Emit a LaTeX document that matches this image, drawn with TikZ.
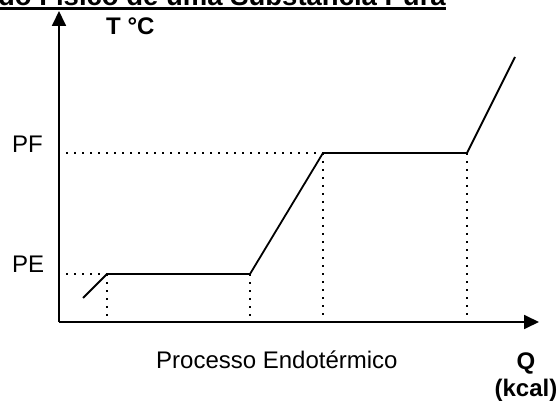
\documentclass[tikz,border=0pt]{standalone}
\usepackage{fontspec}
\setmainfont{Liberation Sans}
\usetikzlibrary{arrows.meta}

\begin{document}
\begin{tikzpicture} [x=1pt, y=-1pt,
  eixo/.style={black, line width=1.8pt, ->, >={Triangle[length=15pt,width=14pt]}},
  curva/.style={black, line width=1.8pt, line join=miter},
  pontos/.style={black, line width=1.8pt, dash pattern=on 1.8pt off 6.2pt},
  rotulo/.style={font=\fontsize{24}{27.6}\selectfont, inner sep=0pt},
  negrito/.style={font=\fontsize{24}{27.6}\selectfont\bfseries, inner sep=0pt}]
\useasboundingbox (0,0) rectangle (560,401);
\clip (0,0) rectangle (560,401);
% titulo (cortado em cima)
\node[anchor=base east, inner sep=0pt, font=\fontsize{27.5}{30}\selectfont\bfseries] (titulo) at (446,5.5) {Mudança de Estado Físico de uma Substância Pura};
\draw[line width=2.6pt] ([yshift=-3pt]titulo.base west) -- ([yshift=-3pt]titulo.base east);
% eixos
\coordinate (O) at (59,322);
\coordinate (topo) at (59,11);
\coordinate (fim) at (539,322);
\draw[eixo] (O)--(topo);
\draw[eixo] (O)--(fim);
% pontos da curva
\coordinate (a) at (83,298);
\coordinate (b) at (107,274);
\coordinate (c) at (250,274);
\coordinate (d) at (323,153);
\coordinate (e) at (467,153);
\coordinate (f) at (515,57);
\draw[pontos] (66,274)--(b);
\draw[pontos] (66,153)--(d);
\foreach \p in {b,c,d,e} {
 \draw[pontos] (\p) -- (\p |- O);
}
\draw[curva] (a)--(b)--(c)--(d)--(e)--(f);
% rotulos
\node[negrito, anchor=base west] (temp) at (106,35) {T °C};
\node[rotulo, anchor=base west] (pf) at (12,153) {PF};
\node[rotulo, anchor=base west] (pe) at (12,272) {PE};
\node[rotulo, anchor=base west] (proc) at (156,368) {Processo Endotérmico};
\node[negrito, anchor=base] (q) at (526,369) {Q};
\node[negrito, anchor=base] (kcal) at (526,396) {(kcal)};
\end{tikzpicture}
\end{document}
